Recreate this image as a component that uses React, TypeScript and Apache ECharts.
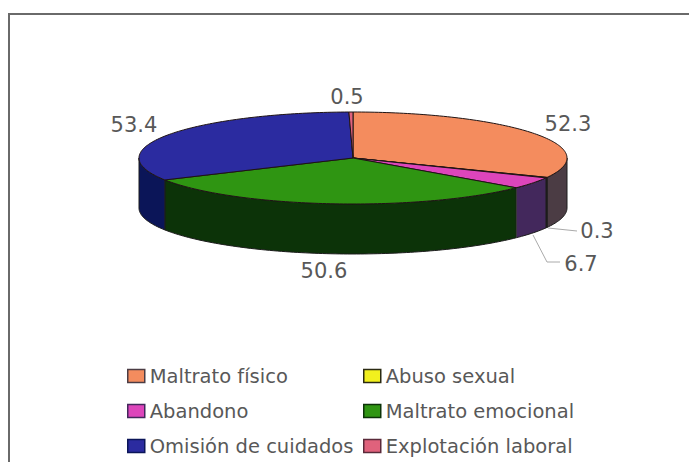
import React, { useEffect, useRef } from "react";
import * as echarts from "echarts";

const categories = [
  "Maltrato físico",
  "Abuso sexual",
  "Abandono",
  "Maltrato emocional",
  "Omisión de cuidados",
  "Explotación laboral",
];
const values = [52.3, 0.3, 6.7, 50.6, 53.4, 0.5];
const topColors = ["#f48c5e", "#f2f01e", "#dd45bb", "#2f9512", "#2b2ba0", "#e0627c"];
const wallColors = ["#4b3c44", "#2b2a12", "#43285c", "#0c3308", "#0b1558", "#5a2a3a"];

const FONT = "DejaVu Sans";
const TEXT = "#585858";
const total = values.reduce((a, b) => a + b, 0);

// Elliptical disc geometry of the tilted pie
const CX = 353;
const CY = 158;
const RX = 214;
const RY = 46;
const DEPTH = 50;
const FRONT_FROM = Math.PI / 2;
const FRONT_TO = (3 * Math.PI) / 2;

const rim = (a: number, dy = 0): number[] => [
  CX + RX * Math.sin(a),
  CY - RY * Math.cos(a) + dy,
];

const arc = (from: number, to: number, dy = 0): number[][] => {
  const steps = Math.max(2, Math.ceil((to - from) / 0.02));
  const pts: number[][] = [];
  for (let i = 0; i <= steps; i++) pts.push(rim(from + ((to - from) * i) / steps, dy));
  return pts;
};

// Label placement per slice, with an optional leader line
const labelSpots = [
  { x: 568, y: 124 },
  { x: 597, y: 231, leader: [[548, 228], [577, 231]] },
  { x: 581, y: 264, leader: [[533, 235], [547, 262], [560, 262]] },
  { x: 324, y: 271 },
  { x: 134, y: 125 },
  { x: 347, y: 97 },
];

// The Abandono wall carries a pale seam along its end edge
const SEAM_SLICE = 2;

function sliceRenderer(index: number) {
  const before = values.slice(0, index).reduce((a, b) => a + b, 0);
  return (_params: unknown, api: any) => {
    const value = api.value(0);
    const start = (before / total) * Math.PI * 2;
    const end = start + (value / total) * Math.PI * 2;
    const children: any[] = [];

    // Outer wall: only the part of the rim that faces the viewer
    const wFrom = Math.max(start, FRONT_FROM);
    const wTo = Math.min(end, FRONT_TO);
    if (wTo > wFrom) {
      children.push({
        type: "polygon",
        shape: { points: [...arc(wFrom, wTo), ...arc(wFrom, wTo, DEPTH).reverse()] },
        style: { fill: wallColors[index], stroke: "#1c1c1c", lineWidth: 1 },
      });
      if (index === SEAM_SLICE) {
        const [x1, y1] = rim(wTo);
        const [x2, y2] = rim(wTo, DEPTH);
        children.push({
          type: "line",
          shape: { x1, y1, x2, y2 },
          style: { stroke: "#a8a4ae", lineWidth: 1 },
        });
      }
    }

    // Top face
    children.push({
      type: "polygon",
      shape: { points: [[CX, CY], ...arc(start, end)] },
      style: { fill: topColors[index], stroke: "#1f1414", lineWidth: 1 },
    });

    const spot = labelSpots[index];
    if (spot.leader) {
      children.push({
        type: "polyline",
        shape: { points: spot.leader },
        style: { fill: "none", stroke: "#aaaaaa", lineWidth: 1 },
      });
    }
    children.push({
      type: "text",
      style: {
        x: spot.x,
        y: spot.y,
        text: value.toFixed(1),
        align: "center",
        verticalAlign: "middle",
        fill: TEXT,
        font: `21px "${FONT}"`,
      },
    });
    return { type: "group", children };
  };
}

const legendItem = (i: number) => ({
  name: categories[i],
  itemStyle: { color: topColors[i], borderColor: wallColors[i], borderWidth: 1.5 },
});

const legendBase = {
  orient: "vertical" as const,
  icon: "rect",
  itemWidth: 17,
  itemHeight: 13,
  itemGap: 15,
  selectedMode: false,
  padding: 0,
  textStyle: { fontFamily: FONT, fontSize: 19.5, color: TEXT, lineHeight: 19 },
};

export default function App() {
  const ref = useRef<HTMLDivElement>(null);

  useEffect(() => {
    if (!ref.current) return;
    const chart = echarts.init(ref.current, undefined, { renderer: "svg" });
    chart.setOption({
      animation: false,
      backgroundColor: "#ffffff",
      legend: [
        { ...legendBase, left: 127, top: 366, data: [0, 2, 4].map(legendItem) },
        { ...legendBase, left: 363, top: 366, data: [1, 3, 5].map(legendItem) },
      ],
      graphic: [
        {
          type: "polyline",
          shape: { points: [[9, 462], [9, 14], [689, 14]] },
          style: { fill: "none", stroke: "#6a6a6a", lineWidth: 2 },
        },
      ],
      series: categories.map((name, i) => ({
        type: "custom",
        name,
        coordinateSystem: "none",
        silent: true,
        itemStyle: { color: topColors[i] },
        data: [[values[i]]],
        renderItem: sliceRenderer(i),
      })),
    });
    return () => chart.dispose();
  }, []);

  return (
    <div
      ref={ref}
      style={{ position: "fixed", left: 0, top: 0, width: 689, height: 462 }}
    />
  );
}
